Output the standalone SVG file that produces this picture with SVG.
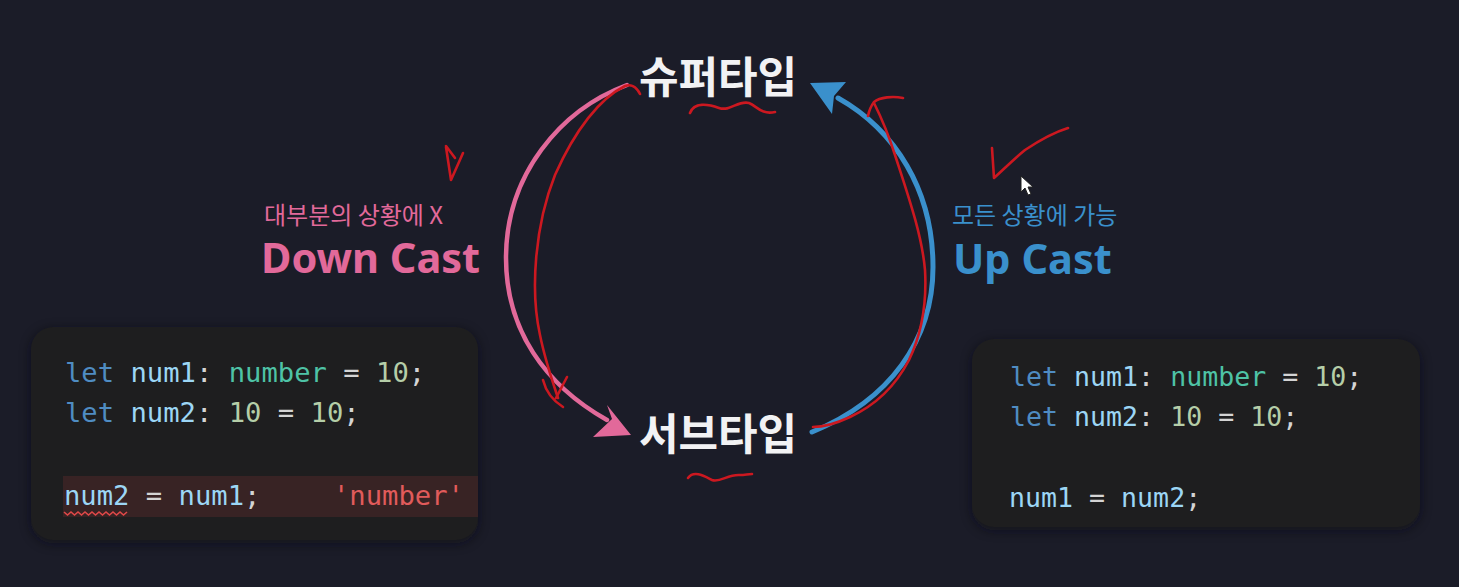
<svg xmlns="http://www.w3.org/2000/svg" width="1459" height="587" viewBox="0 0 1459 587">
<style>
.bg{fill:#1b1c28}
.box{fill:#1e1e1f}
.code{font-family:"DejaVu Sans Mono","Liberation Mono",monospace}
.kw{fill:#4f8cc2}
.var{fill:#9cd6f5}
.ty{fill:#4ec3a6}
.num{fill:#b5cea8}
.op{fill:#d4d4d4}
.err{fill:#e15b5b}
.title{font-family:"Noto Sans CJK KR","Noto Sans",sans-serif;font-weight:700;font-size:43px;fill:#f2f2f4}
.sub{font-family:"Noto Sans CJK KR","Noto Sans",sans-serif;font-size:24px}
.big{font-family:"Noto Sans","Noto Sans CJK KR",sans-serif;font-weight:700;font-size:41.5px}
.pink{fill:#e2699a}
.blue{fill:#3a90cc}
.red{fill:none;stroke:#cc1820;stroke-width:2.6;stroke-linecap:round;stroke-linejoin:round}
</style>
<defs>
<filter id="sh" x="-10%" y="-10%" width="120%" height="120%"><feGaussianBlur stdDeviation="6"/></filter>
</defs>
<rect class="bg" x="0" y="0" width="1459" height="587"/>

<g id="code-left">
<rect x="31" y="330" width="447" height="213" rx="22" fill="#0f1018" opacity="0.6" filter="url(#sh)"/>
<rect class="box" x="31" y="327" width="447" height="213" rx="22"/>
<rect x="63" y="476" width="415" height="41" fill="#382324"/>
<text class="code" x="65" y="382" font-size="27.2"><tspan class="kw">let</tspan><tspan class="var"> num1</tspan><tspan class="op">: </tspan><tspan class="ty">number</tspan><tspan class="op"> = </tspan><tspan class="num">10</tspan><tspan class="op">;</tspan></text>
<text class="code" x="65" y="422" font-size="27.2"><tspan class="kw">let</tspan><tspan class="var"> num2</tspan><tspan class="op">: </tspan><tspan class="num">10</tspan><tspan class="op"> = </tspan><tspan class="num">10</tspan><tspan class="op">;</tspan></text>
<text class="code" x="64" y="505" font-size="27.2"><tspan class="var">num2</tspan><tspan class="op"> = </tspan><tspan class="var">num1</tspan><tspan class="op">;</tspan></text>
<text class="code err" x="333" y="505" font-size="27.2">'number'</text>
<path d="M64,512 l3.5,3 l3.5,-3 l3.5,3 l3.5,-3 l3.5,3 l3.5,-3 l3.5,3 l3.5,-3 l3.5,3 l3.5,-3 l3.5,3 l3.5,-3 l3.5,3 l3.5,-3 l3.5,3 l3.5,-3 l3.5,3 l3.5,-3" fill="none" stroke="#e04848" stroke-width="1.6"/>
</g>

<g id="code-right">
<rect x="972" y="342" width="448" height="188" rx="22" fill="#0f1018" opacity="0.6" filter="url(#sh)"/>
<rect class="box" x="972" y="339" width="448" height="188" rx="22"/>
<text class="code" x="1010" y="386" font-size="26.6"><tspan class="kw">let</tspan><tspan class="var"> num1</tspan><tspan class="op">: </tspan><tspan class="ty">number</tspan><tspan class="op"> = </tspan><tspan class="num">10</tspan><tspan class="op">;</tspan></text>
<text class="code" x="1010" y="426" font-size="26.6"><tspan class="kw">let</tspan><tspan class="var"> num2</tspan><tspan class="op">: </tspan><tspan class="num">10</tspan><tspan class="op"> = </tspan><tspan class="num">10</tspan><tspan class="op">;</tspan></text>
<text class="code" x="1009" y="507" font-size="26.6"><tspan class="var">num1</tspan><tspan class="op"> = </tspan><tspan class="var">num2</tspan><tspan class="op">;</tspan></text>
</g>

<g id="supertype">
<text class="title" x="718" y="93" text-anchor="middle">슈퍼타입</text>
</g>
<g id="subtype">
<text class="title" x="718" y="450" text-anchor="middle">서브타입</text>
</g>

<g id="downcast-label">
<text class="sub pink" x="264" y="224">대부분의 상황에 X</text>
<text class="big pink" x="261" y="273">Down Cast</text>
</g>
<g id="upcast-label">
<text class="sub blue" x="952" y="224">모든 상황에 가능</text>
<text class="big blue" x="953" y="274" font-size="43">Up Cast</text>
</g>

<g id="connectors">
<path d="M627,85 C560,110 506,175 506,258 C506,330 545,385 607,420" fill="none" stroke="#e2699a" stroke-width="4.5" stroke-linecap="round"/>
<path d="M631,435 L607,405 L612,419 L593,437 Z" fill="#e2699a"/>
<path d="M812,432 C890,400 933,340 933,267 C933,190 895,130 838,98" fill="none" stroke="#3a90cc" stroke-width="5" stroke-linecap="round"/>
<path d="M810,83 L846,82 L834,96 L832,114 Z" fill="#3a90cc"/>
</g>

<g id="annotations">
<path class="red" d="M690,113 C694,102 708,104 719,108 C730,112 738,100 749,103 C757,106 761,115 775,112"/>
<path class="red" d="M688,478 C694,470 704,476 712,480 C720,483 728,474 740,475 C745,475 748,474 752,474"/>
<path class="red" d="M640,94 C636,86 630,84 625,86 C600,98 575,130 555,175 C535,225 530,290 540,335 C545,360 552,380 558,398"/>
<path class="red" d="M543,380 C546,392 552,400 563,407 M567,377 L556,398"/>
<path class="red" d="M903,98 C893,96 880,97 874,102 C871,106 869,111 868,116 M874,103 C880,115 887,130 895,155 C908,195 922,235 925,270 C927,305 921,335 909,360 C896,385 876,405 850,417 C835,424 825,427 813,427"/>
<path class="red" d="M992,148 L994,178 C1005,168 1015,158 1025,150 C1040,140 1055,132 1068,128"/>
<path class="red" d="M446,146 L455,158 M446,147 L451,180 L463,153"/>
<path d="M1021,176 L1021,192 L1025,188 L1028,195 L1031,194 L1028,187 L1033,187 Z" fill="#ffffff" stroke="#222" stroke-width="1"/>
</g>
</svg>
